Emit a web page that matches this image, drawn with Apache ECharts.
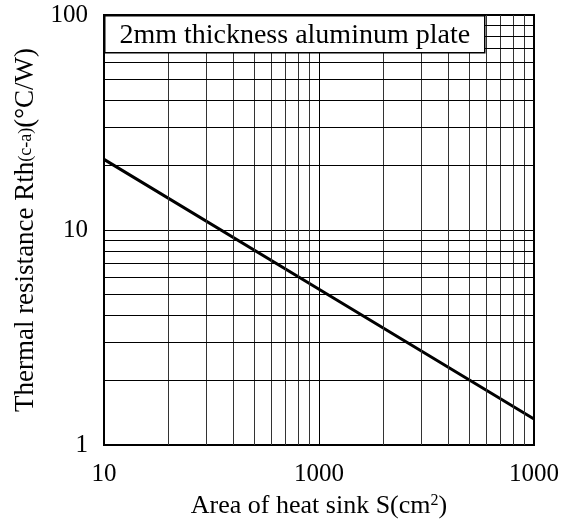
<!DOCTYPE html>
<html>
<head>
<meta charset="utf-8">
<script src="https://cdn.jsdelivr.net/npm/echarts@6/dist/echarts.min.js"></script>
<style>
  html, body { margin: 0; padding: 0; background: #fff; }
  #chart { width: 572px; height: 527px; }
</style>
</head>
<body>
<div id="chart"></div>
<script>
// 散热片面积 vs 热阻
const areaS = [10, 100, 1000];
const rthCA = [21.3, 5.3, 1.32];

// 刻度标签 (照原图)
const xTickLabels = ["10", "1000", "1000"];
const yTickLabels = ["1", "10", "100"];

// 对数坐标的次网格线
const xMinor = [20, 30, 40, 50, 60, 70, 80, 90, 200, 300, 400, 500, 600, 700, 800, 900];
const yMinor = [2, 3, 4, 5, 6, 7, 8, 9, 20, 30, 40, 50, 60, 70, 80, 90];

const noteText = "2mm thickness aluminum plate";
const FONT = '"Liberation Serif", "Times New Roman", serif';

const chart = echarts.init(document.getElementById("chart"));

const minorLines = []
  .concat(xMinor.map((v) => ({ xAxis: v, lineStyle: { color: "#333", width: 1, type: "solid" } })))
  .concat(yMinor.map((v) => ({ yAxis: v, lineStyle: { color: "#000", width: 1, type: "solid" } })));

chart.setOption({
  animation: false,
  backgroundColor: "#fff",
  grid: {
    left: 104,
    top: 15,
    width: 430,
    height: 430,
    show: true,
    borderColor: "#000",
    borderWidth: 2,
    outerBoundsMode: "none",
  },
  xAxis: {
    type: "log",
    logBase: 10,
    min: 10,
    max: 1000,
    name: "{n|Area of heat sink S(cm}{sup|2}{n|)}",
    nameLocation: "middle",
    nameGap: 48,
    nameTextStyle: {
      rich: {
        n: { fontFamily: FONT, fontSize: 26, color: "#000" },
        sup: { fontFamily: FONT, fontSize: 16, color: "#000", verticalAlign: "top", padding: [0, 0, 8, 0] },
      },
    },
    axisLine: { show: false },
    axisTick: { show: false },
    axisLabel: {
      margin: 17,
      fontFamily: FONT,
      fontSize: 25,
      color: "#000",
      formatter: (v) => xTickLabels[Math.round(Math.log10(v)) - 1],
    },
    splitLine: { show: true, lineStyle: { color: "#000", width: 1 } },
  },
  yAxis: {
    type: "log",
    logBase: 10,
    min: 1,
    max: 100,
    name: "{n|Thermal resistance Rth}{sub|(c-a)}{n|(°C/W)}",
    nameLocation: "middle",
    nameGap: 63,
    nameTextStyle: {
      rich: {
        n: { fontFamily: FONT, fontSize: 27, color: "#000" },
        sub: { fontFamily: FONT, fontSize: 18, color: "#000" },
      },
    },
    axisLine: { show: false },
    axisTick: { show: false },
    axisLabel: {
      margin: 16,
      fontFamily: FONT,
      fontSize: 25,
      color: "#000",
      formatter: (v) => yTickLabels[Math.round(Math.log10(v))],
    },
    splitLine: { show: true, lineStyle: { color: "#000", width: 1 } },
  },
  series: [
    {
      type: "line",
      data: areaS.map((x, i) => [x, rthCA[i]]),
      symbol: "none",
      lineStyle: { color: "#000", width: 3 },
      z: 3,
      markLine: {
        silent: true,
        symbol: "none",
        label: { show: false },
        animation: false,
        data: minorLines,
      },
    },
  ],
  graphic: [
    {
      type: "group",
      left: 104,
      top: 15,
      z: 100,
      children: [
        {
          type: "rect",
          z: 100,
          shape: { x: 0, y: 0, width: 380, height: 37 },
          style: { fill: "#fff", stroke: "#000", lineWidth: 1.5 },
        },
        {
          type: "text",
          z: 101,
          x: 190,
          y: 20,
          style: {
            text: noteText,
            fontFamily: FONT,
            fontSize: 28,
            fill: "#000",
            align: "center",
            verticalAlign: "middle",
          },
        },
      ],
    },
  ],
});
</script>
</body>
</html>
